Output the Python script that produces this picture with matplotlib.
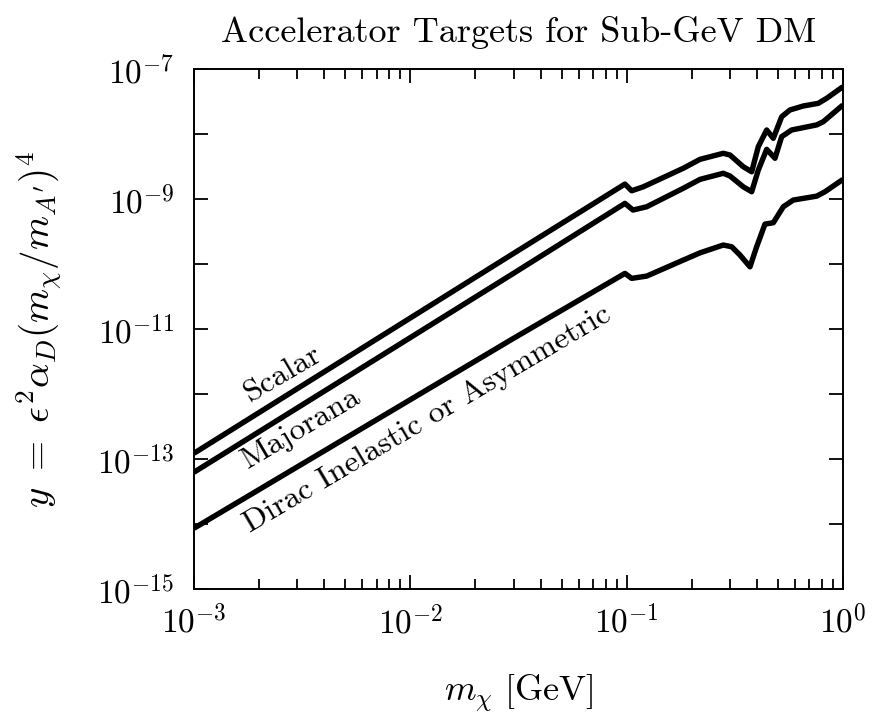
import matplotlib
matplotlib.use("Agg")
import matplotlib.pyplot as plt
import matplotlib.ticker as mticker
import numpy as np

plt.rcParams.update({
    "font.family": "serif",
    "font.serif": ["cmr10"],
    "mathtext.fontset": "cm",
    "axes.formatter.use_mathtext": True,
    "axes.unicode_minus": False,
})

# mass grid [GeV] and thermal targets y for each dark-matter type
m_scalar = [1e-3, 1e-2, 3e-2, 0.0982, 0.1055, 0.1194, 0.1827, 0.2183, 0.2797, 0.3004,
            0.346, 0.3785, 0.406, 0.444, 0.4764, 0.5208, 0.5689, 0.6555, 0.7689, 0.841, 1.0]
y_scalar = [1.23e-13, 1.49e-11, 1.47e-10, 1.72e-9, 1.355e-9, 1.56e-9, 3.01e-9, 4.13e-9, 5.12e-9, 4.82e-9,
            3.18e-9, 2.66e-9, 6.46e-9, 1.17e-8, 8.71e-9, 1.87e-8, 2.38e-8, 2.74e-8, 3.01e-8, 3.6e-8, 5.43e-8]

m_majorana = [1e-3, 1e-2, 3e-2, 0.0982, 0.107, 0.1238, 0.1827, 0.2183, 0.2797, 0.3004,
              0.346, 0.3785, 0.406, 0.444, 0.485, 0.5208, 0.579, 0.756, 0.811, 1.0]
y_majorana = [6.28e-14, 7.43e-12, 7.26e-11, 8.67e-10, 6.84e-10, 7.69e-10, 1.48e-9, 2.03e-9, 2.52e-9, 2.29e-9,
              1.56e-9, 1.31e-9, 2.82e-9, 5.89e-9, 4.29e-9, 9.23e-9, 1.17e-8, 1.40e-8, 1.57e-8, 2.84e-8]

m_dirac = [1e-3, 1e-2, 3e-2, 0.0982, 0.1055, 0.1238, 0.1827, 0.2183, 0.2797, 0.306,
           0.334, 0.3717, 0.399, 0.436, 0.4764, 0.530, 0.589, 0.756, 0.826, 1.0]
y_dirac = [8.61e-15, 8.22e-13, 7.24e-12, 7.24e-11, 6.07e-11, 6.58e-11, 1.16e-10, 1.50e-10, 1.98e-10, 1.86e-10,
           1.39e-10, 9.14e-11, 1.86e-10, 4.16e-10, 4.36e-10, 7.69e-10, 9.75e-10, 1.12e-9, 1.31e-9, 2.03e-9]

fig = plt.figure(figsize=(8.79, 7.14), dpi=100)
ax = fig.add_axes([0.2207, 0.1751, 0.7383, 0.7276])

for m, y in [(m_scalar, y_scalar), (m_majorana, y_majorana), (m_dirac, y_dirac)]:
    ax.plot(m, y, color="black", lw=3.9, solid_joinstyle="round", solid_capstyle="butt")

ax.set_xscale("log")
ax.set_yscale("log")
ax.set_xlim(1e-3, 1.0)
ax.set_ylim(1e-15, 1e-7)

# decade ticks on y, labelled every other decade
ax.set_yticks([10.0**k for k in range(-15, -6)])
ax.yaxis.set_major_formatter(mticker.FuncFormatter(
    lambda v, p: r"$10^{%d}$" % round(np.log10(v)) if round(np.log10(v)) % 2 else ""))
ax.yaxis.set_minor_locator(mticker.NullLocator())
ax.xaxis.set_major_formatter(mticker.FuncFormatter(
    lambda v, p: r"$10^{%d}$" % round(np.log10(v))))

ax.tick_params(which="both", direction="in", top=True, right=True, labelsize=24, width=1.3)
ax.tick_params(which="major", length=10)
ax.tick_params(which="minor", length=7)
ax.tick_params(axis="x", which="major", pad=11)
ax.tick_params(axis="y", which="major", pad=14)
for s in ax.spines.values():
    s.set_linewidth(1.4)

ax.set_xlabel(r"$m_\chi\ [\mathrm{GeV}]$", fontsize=26, labelpad=24)
ax.set_ylabel(r"$y\ =\ \epsilon^2\alpha_D(m_\chi/m_{A^\prime})^4$", fontsize=28, labelpad=24)
ax.set_title("Accelerator Targets for Sub-GeV DM", fontsize=26, pad=20)

# curve labels, anchored at the left end of their baselines
lab = dict(rotation=30.5, fontsize=23, ha="left", va="baseline", rotation_mode="anchor")
ax.text(1.82e-3, 7.3e-13, "Scalar", **lab)
ax.text(1.78e-3, 7.2e-14, "Majorana", **lab)
ax.text(1.81e-3, 7.2e-15, "Dirac Inelastic or Asymmetric", **lab)

fig.savefig("out.png", dpi=100)
